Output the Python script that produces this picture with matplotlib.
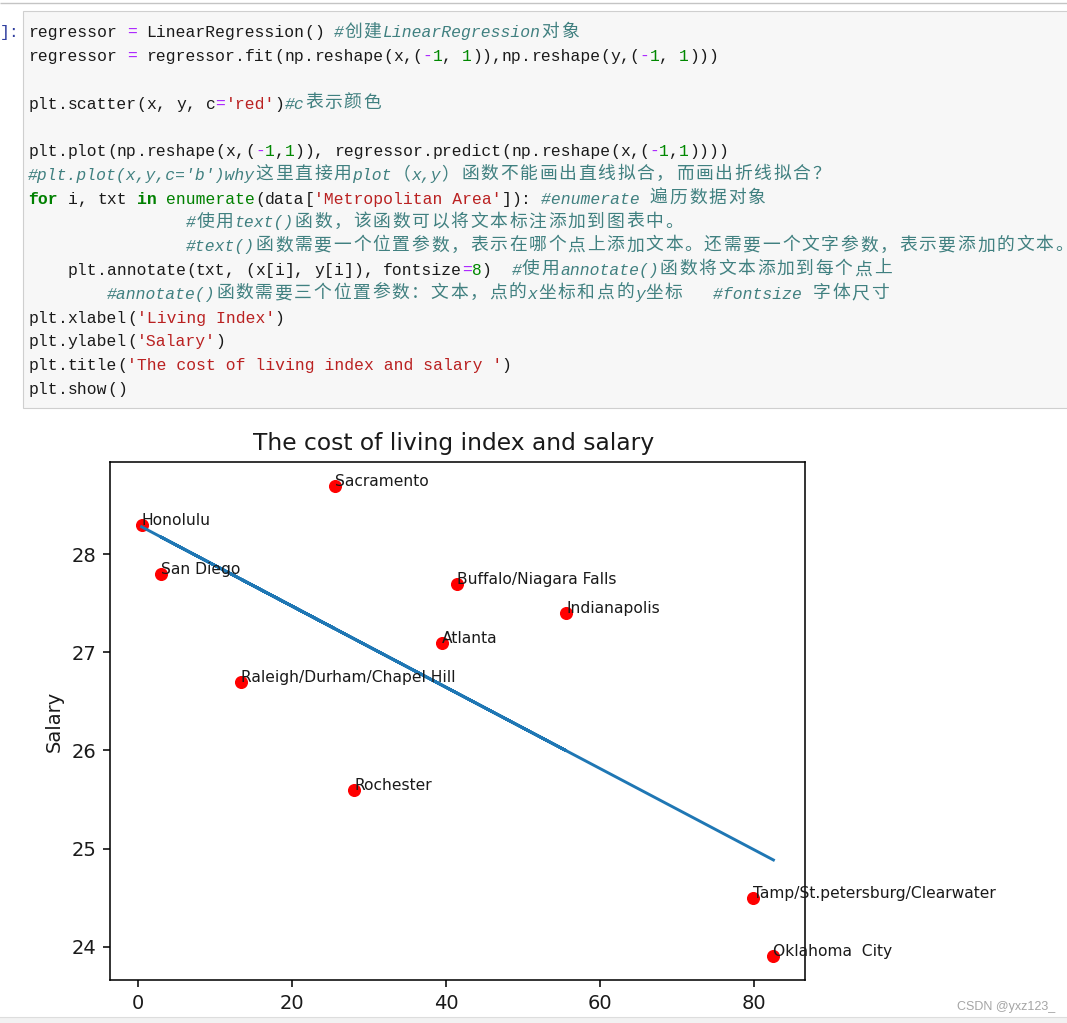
import unicodedata
import numpy as np
import matplotlib
matplotlib.use("Agg")
import matplotlib.pyplot as plt
from matplotlib.patches import Rectangle

# ---------------- data ----------------
cities = ['Honolulu', 'Sacramento', 'San Diego', 'Buffalo/Niagara Falls', 'Indianapolis',
          'Atlanta', 'Raleigh/Durham/Chapel Hill', 'Rochester',
          'Tamp/St.petersburg/Clearwater', 'Oklahoma  City']
living_index = [0.5, 25.6, 3.0, 41.4, 55.6, 39.5, 13.4, 28.1, 79.9, 82.5]
salary = [28.3, 28.7, 27.8, 27.7, 27.4, 27.1, 26.7, 25.6, 24.5, 23.9]
chart_title = 'The cost of living index and salary '
y_label = 'Salary'
x_ticks = [0, 20, 40, 60, 80]
y_ticks = [24, 25, 26, 27, 28]

code_lines = [
    "regressor = LinearRegression() #创建LinearRegression对象",
    "regressor = regressor.fit(np.reshape(x,(-1, 1)),np.reshape(y,(-1, 1)))",
    "",
    "plt.scatter(x, y, c='red')#c表示颜色",
    "",
    "plt.plot(np.reshape(x,(-1,1)), regressor.predict(np.reshape(x,(-1,1))))",
    "#plt.plot(x,y,c='b')why这里直接用plot（x,y）函数不能画出直线拟合，而画出折线拟合？",
    "for i, txt in enumerate(data['Metropolitan Area']): #enumerate 遍历数据对象",
    " " * 16 + "#使用text()函数，该函数可以将文本标注添加到图表中。",
    " " * 16 + "#text()函数需要一个位置参数，表示在哪个点上添加文本。还需要一个文字参数，表示要添加的文本。",
    "    plt.annotate(txt, (x[i], y[i]), fontsize=8)  #使用annotate()函数将文本添加到每个点上",
    " " * 8 + "#annotate()函数需要三个位置参数：文本，点的x坐标和点的y坐标   #fontsize 字体尺寸",
    "plt.xlabel('Living Index')",
    "plt.ylabel('Salary')",
    "plt.title('The cost of living index and salary ')",
    "plt.show()",
]
watermark = "CSDN @yxz123_"

# ---------------- figure ----------------
W, H, DPI = 1067, 1023, 100
fig = plt.figure(figsize=(W / DPI, H / DPI), dpi=DPI, facecolor='white')

ov = fig.add_axes([0, 0, 1, 1])
ov.set_xlim(0, W)
ov.set_ylim(H, 0)
ov.set_axis_off()

# notebook chrome
ov.plot([0, W], [2.7, 2.7], color='#c4c4c4', lw=1.0, solid_capstyle='butt')
ov.add_patch(Rectangle((22.5, 10.5), W, 397.5, facecolor='#f7f7f7',
                       edgecolor='#cfcfcf', lw=0.8))
ov.add_patch(Rectangle((-5, 1016.5), W + 10, 20, facecolor='#f2f2f2',
                       edgecolor='#dddddd', lw=0.8))

MONO = 'Liberation Mono'
CJK = 'Noto Sans CJK SC'
CELL = 9.86
WIDE = 19.5
X0 = 28.2
BASE0 = 37.3
LSTEP = 23.77
mono_size = CELL / 0.6 * 72 / DPI
cjk_size = 12.8

STY = {
    'comment': dict(color='#408080', fontstyle='italic', fontweight='normal'),
    'string': dict(color='#BA2121', fontstyle='normal', fontweight='normal'),
    'keyword': dict(color='#008000', fontstyle='normal', fontweight='bold'),
    'builtin': dict(color='#008000', fontstyle='normal', fontweight='normal'),
    'number': dict(color='#008800', fontstyle='normal', fontweight='normal'),
    'operator': dict(color='#AA22FF', fontstyle='normal', fontweight='normal'),
    'plain': dict(color='#1a1a1a', fontstyle='normal', fontweight='normal'),
}
KW = {'for', 'in'}
BUILTIN = {'enumerate'}


def is_wide(ch):
    return unicodedata.east_asian_width(ch) in ('W', 'F')


def tokenize(line):
    toks = []
    i, n = 0, len(line)
    while i < n:
        c = line[i]
        if c == '#':
            toks.append((line[i:], 'comment'))
            break
        if c == "'":
            j = line.index("'", i + 1)
            toks.append((line[i:j + 1], 'string'))
            i = j + 1
            continue
        if (c.isalpha() or c == '_') and not is_wide(c):
            j = i
            while j < n and (line[j].isalnum() or line[j] == '_') and not is_wide(line[j]):
                j += 1
            w = line[i:j]
            kind = 'keyword' if w in KW else ('builtin' if w in BUILTIN else 'plain')
            toks.append((w, kind))
            i = j
            continue
        if c.isdigit():
            j = i
            while j < n and line[j].isdigit():
                j += 1
            toks.append((line[i:j], 'number'))
            i = j
            continue
        if c in '=-':
            toks.append((c, 'operator'))
            i += 1
            continue
        toks.append((c, 'plain'))
        i += 1
    return toks


def flush(run, run_x, y, st):
    if run.strip():
        lead = len(run) - len(run.lstrip(' '))
        ov.text(run_x + lead * CELL, y, run.lstrip(' '),
                fontfamily=MONO, fontsize=mono_size, va='baseline',
                ha='left', **st)


def draw_line(li, line):
    y = BASE0 + LSTEP * li
    xpos = X0
    for text, kind in tokenize(line):
        st = STY[kind]
        run, run_x = '', xpos
        for ch in text:
            if is_wide(ch):
                flush(run, run_x, y, st)
                run = ''
                ov.text(xpos + 0.6, y - 0.8, ch, fontfamily=[CJK, 'DejaVu Sans'],
                        fontsize=cjk_size, va='baseline', ha='left',
                        color=st['color'])
                xpos += WIDE
                run_x = xpos
            else:
                if run == '':
                    run_x = xpos
                run += ch
                xpos += CELL
        flush(run, run_x, y, st)


for li, line in enumerate(code_lines):
    draw_line(li, line)

# prompt fragment
ov.text(0, BASE0, ']:', fontfamily=MONO, fontsize=mono_size, color='#303F9F',
        va='baseline', ha='left')

# ---------------- chart ----------------
S = 1.4
ax = fig.add_axes([110 / W, (H - 980) / H, 695 / W, 518 / H])
x = np.array(living_index)
y = np.array(salary)
ax.scatter(x, y, c='red', s=36 * S * S, linewidths=1.0)
slope, intercept = np.polyfit(x, y, 1)
ax.plot(x, slope * x + intercept, color='#1f77b4', lw=1.5 * S)
for i, txt in enumerate(cities):
    ax.annotate(txt, (x[i], y[i]), fontsize=8 * S, color='#1a1a1a')
ax.set_title(chart_title, fontsize=12 * S, pad=6 * S, color='#1a1a1a')
ax.set_ylabel(y_label, fontsize=10 * S, labelpad=4 * S, color='#1a1a1a')
ax.set_xticks(x_ticks)
ax.set_yticks(y_ticks)
ax.tick_params(labelsize=10 * S, length=3.5 * S, width=0.8 * S, pad=3.5 * S,
               labelcolor='#1a1a1a')
for sp in ax.spines.values():
    sp.set_linewidth(0.8 * S)

fig.text(957 / W, 1 - 1006.7 / H, watermark, fontsize=9, color='#a5a5a5',
         family='Liberation Sans', va='center', ha='left')

fig.savefig('out.png', dpi=DPI, facecolor='white')
